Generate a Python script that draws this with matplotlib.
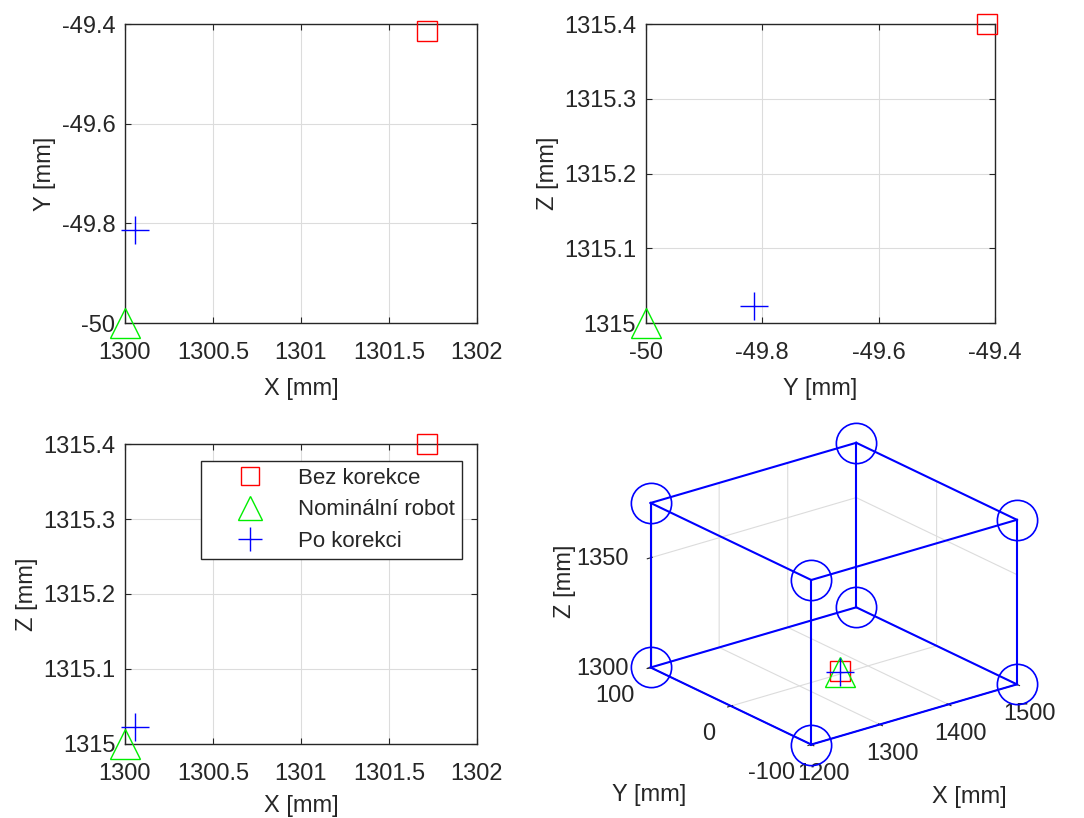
import matplotlib
matplotlib.use('Agg')
import matplotlib.pyplot as plt
from matplotlib.ticker import FuncFormatter

plt.rcParams['font.family'] = ['Liberation Sans', 'DejaVu Sans']
plt.rcParams['font.size'] = 17
plt.rcParams['text.color'] = '#262626'
plt.rcParams['axes.labelcolor'] = '#262626'
plt.rcParams['xtick.color'] = '#262626'
plt.rcParams['ytick.color'] = '#262626'
plt.rcParams['axes.edgecolor'] = '#262626'
plt.rcParams['grid.color'] = '#dcdcdc'
plt.rcParams['grid.linewidth'] = 0.8

# ---------------------------------------------------------------------------
# DATA
# ---------------------------------------------------------------------------
labels = ['Bez korekce', 'Nominální robot', 'Po korekci']
pt_x = [1301.716, 1300.000, 1300.055]
pt_y = [-49.413, -50.000, -49.814]
pt_z = [1315.400, 1315.000, 1315.023]

# workspace cube corners
cube_x = [1200, 1500, 1500, 1200, 1200, 1500, 1500, 1200]
cube_y = [-100, -100, 100, 100, -100, -100, 100, 100]
cube_z = [1300, 1300, 1300, 1300, 1375, 1375, 1375, 1375]
cube_edges = [(0, 1), (1, 2), (2, 3), (3, 0), (4, 5), (5, 6), (6, 7), (7, 4),
              (0, 4), (1, 5), (2, 6), (3, 7)]

x_ticks = [1300, 1300.5, 1301, 1301.5, 1302]
y_ticks = [-50, -49.8, -49.6, -49.4]
z_ticks = [1315, 1315.1, 1315.2, 1315.3, 1315.4]

x3_ticks = [1200, 1300, 1400, 1500]
y3_ticks = [-100, 0, 100]
z3_ticks = [1300, 1350]

# ---------------------------------------------------------------------------
# STYLE
# ---------------------------------------------------------------------------
styles = [dict(marker='s', color='#ff0000', ms=15),
          dict(marker='^', color='#00ee00', ms=21),
          dict(marker='+', color='#0000ff', ms=20)]
fmt = FuncFormatter(lambda v, p: f'{v:g}')


def style2d(ax):
    ax.grid(True)
    ax.set_axisbelow(True)
    ax.tick_params(direction='in', top=True, right=True, length=4,
                   labelsize=17)
    ax.tick_params(axis='x', pad=14)
    ax.tick_params(axis='y', pad=7)
    ax.xaxis.set_major_formatter(fmt)
    ax.yaxis.set_major_formatter(fmt)
    for s in ax.spines.values():
        s.set_linewidth(1.0)


def scatter2d(ax, xs, ys):
    for i in range(3):
        st = styles[i]
        ax.plot(xs[i], ys[i], linestyle='none', marker=st['marker'],
                color=st['color'], ms=st['ms'], mfc='none', mew=1.0,
                label=labels[i], clip_on=False, zorder=5)


fig = plt.figure(figsize=(10.84, 8.18), dpi=100)

# X-Y
ax1 = fig.add_axes([0.1153, 0.6051, 0.3247, 0.3655])
scatter2d(ax1, pt_x, pt_y)
ax1.set_xlim(1300, 1302)
ax1.set_ylim(-50, -49.4)
ax1.set_xticks(x_ticks)
ax1.set_yticks(y_ticks)
style2d(ax1)
ax1.set_xlabel('X [mm]', labelpad=10)
ax1.set_ylabel('Y [mm]')

# Y-Z
ax2 = fig.add_axes([0.5959, 0.6051, 0.3220, 0.3655])
scatter2d(ax2, pt_y, pt_z)
ax2.set_xlim(-50, -49.4)
ax2.set_ylim(1315, 1315.4)
ax2.set_xticks(y_ticks)
ax2.set_yticks(z_ticks)
style2d(ax2)
ax2.set_xlabel('Y [mm]', labelpad=10)
ax2.set_ylabel('Z [mm]')

# X-Z
ax3 = fig.add_axes([0.1153, 0.0905, 0.3247, 0.3667])
scatter2d(ax3, pt_x, pt_z)
ax3.set_xlim(1300, 1302)
ax3.set_ylim(1315, 1315.4)
ax3.set_xticks(x_ticks)
ax3.set_yticks(z_ticks)
style2d(ax3)
ax3.set_xlabel('X [mm]', labelpad=7)
ax3.set_ylabel('Z [mm]')
leg = ax3.legend(loc='upper right', bbox_to_anchor=(0.957, 0.943),
                 borderaxespad=0, fontsize=16, markerscale=0.85,
                 handlelength=3.83, handletextpad=0.24, borderpad=0.3,
                 labelspacing=0.48, fancybox=False, framealpha=1,
                 edgecolor='#262626')
leg.get_frame().set_linewidth(1.0)

# 3D view
ax4 = fig.add_axes([0.5447, 0.0247, 0.439, 0.486], projection='3d',
                   proj_type='ortho')
ax4.view_init(elev=22, azim=-128)
ax4.set_box_aspect((1, 1, 0.68))
for a, b in cube_edges:
    ax4.plot([cube_x[a], cube_x[b]], [cube_y[a], cube_y[b]],
             [cube_z[a], cube_z[b]], color='#0000ff', lw=1.5, clip_on=False)
ax4.plot(cube_x, cube_y, cube_z, linestyle='none', marker='o', ms=29,
         mfc='none', mec='#0000ff', mew=1.2, clip_on=False)
for i in range(3):
    st = styles[i]
    ax4.plot([pt_x[i]], [pt_y[i]], [pt_z[i]], linestyle='none',
             marker=st['marker'], color=st['color'], ms=st['ms'],
             mfc='none', mew=1.0, clip_on=False)
ax4.set_xlim(1200, 1500)
ax4.set_ylim(-100, 100)
ax4.set_zlim(1300, 1375)
ax4.set_xticks(x3_ticks)
ax4.set_yticks(y3_ticks)
ax4.set_zticks(z3_ticks)
ax4.xaxis.set_major_formatter(fmt)
ax4.yaxis.set_major_formatter(fmt)
ax4.zaxis.set_major_formatter(fmt)
for axis in (ax4.xaxis, ax4.yaxis, ax4.zaxis):
    axis.pane.fill = False
    axis.pane.set_edgecolor('none')
    axis.line.set_color('#262626')
    axis.line.set_linewidth(0.8)
    axis.set_rotate_label(False)
ax4.tick_params(labelsize=17)
ax4.tick_params(axis='z', pad=1)
for t in ax4.get_yticklabels():
    t.set_ha('right')
for t in ax4.get_zticklabels():
    t.set_ha('right')
    t.set_va('center_baseline')
ax4.set_xlabel('X [mm]', labelpad=30)
ax4.set_ylabel('Y [mm]', labelpad=38)
ax4.set_zlabel('Z [mm]', rotation=90, labelpad=14)

fig.savefig('out.png', dpi=100)
